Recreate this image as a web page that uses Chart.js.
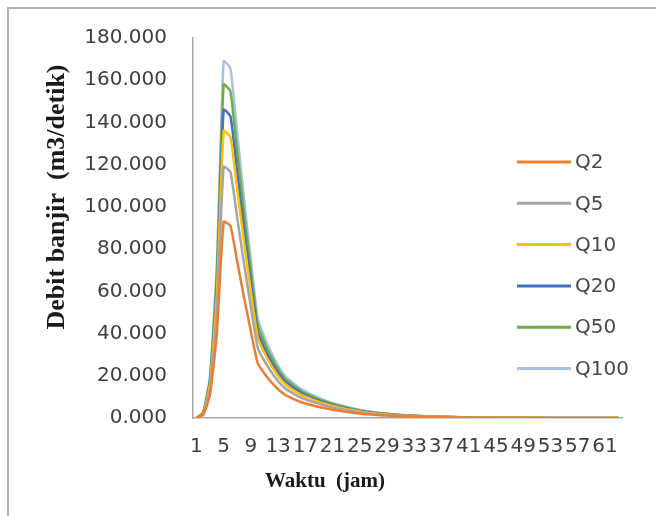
<!DOCTYPE html>
<html>
<head>
<meta charset="utf-8">
<script src="https://cdn.jsdelivr.net/npm/chart.js@4"></script>
<style>
  html, body { margin: 0; padding: 0; background: #fff; }
  #wrap { position: relative; width: 656px; height: 516px; }
</style>
</head>
<body>
<div id="wrap"><canvas id="hidrograf"></canvas></div>
<script>
// jam ke- (sumbu x)
const waktu = [1,2,3,4,5,6,7,8,9,10,11,12,13,14,15,16,17,18,19,20,21,22,23,24,25,26,27,28,29,30,
  31,32,33,34,35,36,37,38,39,40,41,42,43,44,45,46,47,48,49,50,51,52,53,54,55,56,57,58,59,60,61,62,63];

const q2 = [0,1.5,11,40,93,91,74,57,41,26, 21,17,13.6,11,9.4,8,6.9,6,5.2,4.5,
  3.9,3.4,2.9,2.5,2.1,1.8,1.55,1.33,1.15,0.99, 0.85,0.73,0.63,0.54,0.46,0.4,0.34,0.29,0.25,0.22,
  0.19,0.16,0.14,0.12,0.1,0.09,0.08,0.07,0.06,0.05, 0.04,0.04,0.03,0.03,0.02,0.02,0.02,0.01,0.01,0.01,0.01,0.01,0.01];
const q5 = [0,1.9,14,51,119,116.5,94.7,73,52.5,33.3, 26.9,21.8,17.4,14.1,12,10.2,8.8,7.7,6.7,5.8,
  5,4.35,3.7,3.2,2.7,2.3,2,1.7,1.47,1.27, 1.09,0.93,0.81,0.69,0.59,0.51,0.44,0.37,0.32,0.28,
  0.24,0.2,0.18,0.15,0.13,0.12,0.1,0.09,0.08,0.06, 0.05,0.05,0.04,0.04,0.03,0.03,0.03,0.01,0.01,0.01,0.01,0.01,0.01];
const q10 = [0,2.2,16,58.4,136,133,108,83.2,59.9,38, 30.7,24.8,19.9,16.1,13.7,11.7,10.1,8.8,7.6,6.6,
  5.7,5,4.2,3.7,3.1,2.6,2.3,1.9,1.68,1.45, 1.24,1.07,0.92,0.79,0.67,0.58,0.5,0.42,0.37,0.32,
  0.28,0.23,0.2,0.18,0.15,0.13,0.12,0.1,0.09,0.07, 0.06,0.06,0.04,0.04,0.03,0.03,0.03,0.01,0.01,0.01,0.01,0.01,0.01];
const q20 = [0,2.4,17.3,62.8,146,142.9,116.2,89.5,64.4,40.8, 33,26.7,21.4,17.3,14.8,12.6,10.8,9.4,8.2,7.1,
  6.1,5.3,4.6,3.9,3.3,2.8,2.4,2.1,1.81,1.55, 1.33,1.15,0.99,0.85,0.72,0.63,0.53,0.46,0.39,0.35,
  0.3,0.25,0.22,0.19,0.16,0.14,0.13,0.11,0.09,0.08, 0.06,0.06,0.05,0.05,0.03,0.03,0.03,0.02,0.02,0.02,0.02,0.02,0.02];
const q50 = [0,2.6,18.7,68,158,154.7,125.8,96.9,69.7,44.2, 35.7,28.9,23.1,18.7,16,13.6,11.7,10.2,8.8,7.7,
  6.6,5.8,4.9,4.3,3.6,3.1,2.6,2.3,1.96,1.68, 1.45,1.24,1.07,0.92,0.78,0.68,0.58,0.49,0.43,0.37,
  0.32,0.27,0.24,0.2,0.17,0.15,0.14,0.12,0.1,0.09, 0.07,0.07,0.05,0.05,0.03,0.03,0.03,0.02,0.02,0.02,0.02,0.02,0.02];
const q100 = [0,2.7,20,72.8,169,165.6,134.7,103.7,74.6,47.3, 38.2,30.9,24.8,20,17.1,14.6,12.6,10.9,9.5,8.2,
  7.1,6.2,5.3,4.6,3.8,3.3,2.8,2.4,2.09,1.8, 1.55,1.33,1.15,0.98,0.84,0.73,0.62,0.53,0.46,0.4,
  0.35,0.29,0.25,0.22,0.18,0.16,0.15,0.13,0.11,0.09, 0.07,0.07,0.05,0.05,0.04,0.04,0.04,0.02,0.02,0.02,0.02,0.02,0.02];

const namaSeri = ['Q2', 'Q5', 'Q10', 'Q20', 'Q50', 'Q100'];
const nilaiSeri = [q2, q5, q10, q20, q50, q100];
const warna = ['#ED7D31', '#A5A5A5', '#FFC000', '#4472C4', '#70AD47', '#A9C1E0'];

// bingkai, judul sumbu dan legenda digambar sendiri
const hiasan = {
  id: 'hiasan',
  beforeDraw(chart) {
    const ctx = chart.ctx;
    ctx.save();
    ctx.fillStyle = '#fff';
    ctx.fillRect(0, 0, chart.width, chart.height);
    ctx.strokeStyle = '#b0b0b0';
    ctx.lineWidth = 2;
    ctx.strokeRect(8, 8, chart.width + 20, chart.height + 20);
    ctx.restore();
  },
  afterDraw(chart) {
    const ctx = chart.ctx;
    ctx.save();
    // judul sumbu y
    ctx.fillStyle = '#1a1a1a';
    ctx.font = 'bold 26px "Liberation Serif"';
    ctx.textAlign = 'center';
    ctx.textBaseline = 'middle';
    ctx.translate(57, 197);
    ctx.rotate(-Math.PI / 2);
    ctx.fillText('Debit banjir  (m3/detik)', 0, 0);
    ctx.restore();

    ctx.save();
    ctx.fillStyle = '#1a1a1a';
    ctx.font = 'bold 21px "Liberation Serif"';
    ctx.textAlign = 'center';
    ctx.textBaseline = 'middle';
    ctx.fillText('Waktu  (jam)', 325, 482);

    // legenda
    ctx.font = '20px "DejaVu Sans"';
    ctx.textAlign = 'left';
    chart.data.datasets.forEach(function(ds, i) {
      const y = 162 + i * 41.3;
      ctx.strokeStyle = ds.borderColor;
      ctx.lineWidth = 3;
      ctx.beginPath();
      ctx.moveTo(517, y);
      ctx.lineTo(571, y);
      ctx.stroke();
      ctx.fillStyle = '#4a4a4a';
      ctx.fillText(ds.label, 575, y + 1);
    });
    ctx.restore();
  }
};

const ctx = document.getElementById('hidrograf').getContext('2d');
const grafik = new Chart(ctx, {
  type: 'line',
  data: {
    labels: waktu,
    datasets: namaSeri.map(function(nama, i) {
      return {
        label: nama,
        data: nilaiSeri[i],
        borderColor: warna[i],
        backgroundColor: warna[i],
        borderWidth: 2.5,
        pointRadius: 0,
        tension: 0.15,
        fill: false
      };
    })
  },
  options: {
    responsive: true,
    maintainAspectRatio: false,
    animation: false,
    layout: { padding: { left: 0, right: 34, top: 32, bottom: 0 } },
    plugins: {
      legend: { display: false },
      tooltip: { enabled: false }
    },
    scales: {
      x: {
        type: 'category',
        offset: true,
        grid: { display: false, drawTicks: false },
        border: { display: true, color: '#a6a6a6', width: 1.5 },
        ticks: {
          autoSkip: false,
          maxRotation: 0,
          minRotation: 0,
          padding: 17,
          color: '#404040',
          font: { family: 'DejaVu Sans', size: 20 },
          callback: function(val, idx) {
            return idx % 4 === 0 ? this.getLabelForValue(val) : '';
          }
        },
        afterFit: function(s) { s.height = 98; }
      },
      y: {
        min: 0,
        max: 180,
        grid: { display: false, drawTicks: false },
        border: { display: true, color: '#a6a6a6', width: 1.5 },
        ticks: {
          stepSize: 20,
          padding: 26,
          color: '#404040',
          font: { family: 'DejaVu Sans', size: 20 },
          callback: function(v) { return v.toFixed(3); }
        },
        afterFit: function(s) { s.width = 193; }
      }
    }
  },
  plugins: [hiasan]
});
</script>
</body>
</html>
